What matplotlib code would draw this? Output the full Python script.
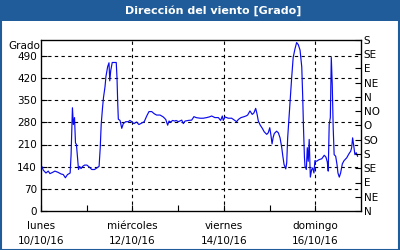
import matplotlib
matplotlib.use("Agg")
import matplotlib.pyplot as plt
from matplotlib.patches import Rectangle
import numpy as np

# hours since 10/10/16 00:00 and wind direction (degrees, unwrapped)
hours = [0.0, 0.4, 1.2, 2.6, 3.8, 4.7, 6.1, 7.3, 9.0, 10.5, 11.7, 12.8, 13.9, 15.3, 15.8, 16.3, 16.5, 17.0,
         17.6, 18.1, 18.6, 19.2, 19.7, 20.3, 21.0, 21.9, 22.9, 24.1, 25.3, 26.7, 28.1, 29.3, 30.5, 31.1,
         31.6, 32.3, 32.8, 33.6, 34.1, 35.0, 35.7, 36.1, 36.6, 37.4, 38.8, 39.5, 39.9, 40.3, 40.6, 41.5,
         42.4, 43.2, 44.5, 45.8, 46.7, 47.6, 48.8, 50.2, 51.4, 52.9, 54.2, 55.5, 56.7, 58.1, 59.5, 60.7,
         62.5, 64.2, 65.5, 66.5, 67.2, 68.1, 69.1, 70.3, 70.9, 72.1, 73.9, 74.7, 75.6, 77.3, 79.1, 80.3,
         81.4, 83.5, 85.2, 87.0, 88.3, 89.6, 91.3, 93.1, 94.3, 95.2, 95.7, 96.6, 98.3, 100.1, 101.8, 102.7,
         103.6, 105.0, 106.2, 107.6, 108.5, 109.7, 110.9, 111.8, 112.7, 113.4, 114.1, 115.1, 116.2, 117.2,
         118.5, 119.3, 120.1, 120.7, 121.3, 121.9, 122.5, 123.7, 124.6, 125.5, 126.4, 126.9, 127.6, 128.5,
         129.0, 129.5, 130.2, 130.7, 131.6, 132.4, 133.3, 134.2, 135.1, 136.0, 136.9, 137.4, 137.8, 138.3,
         138.6, 139.3, 139.8, 140.3, 140.8, 141.4, 142.1, 142.6, 143.3, 143.8, 144.7, 145.9, 147.4, 148.7,
         149.6, 150.3, 150.8, 151.3, 151.9, 152.4, 152.9, 153.4, 153.9, 154.7, 155.4, 155.9, 156.6, 157.3,
         158.2, 159.1, 160.5, 161.7, 162.6, 163.1, 163.6, 164.1, 164.8, 165.5, 166.2]
direction = [141, 141, 129, 120, 126, 118, 122, 126, 122, 117, 115, 105, 115, 120, 178, 279, 326, 273,
             295, 215, 210, 168, 131, 141, 134, 141, 145, 145, 139, 131, 131, 136, 141, 200,
             273, 326, 358, 392, 425, 456, 468, 411, 443, 469, 469, 469, 421, 337, 290, 286,
             261, 276, 282, 282, 286, 282, 276, 281, 273, 278, 282, 300, 314, 314, 307, 303,
             303, 297, 289, 271, 284, 281, 286, 284, 286, 282, 287, 276, 284, 286, 287, 298,
             295, 293, 293, 295, 297, 300, 295, 295, 286, 300, 286, 297, 293, 293, 286, 282,
             289, 295, 297, 300, 303, 316, 305, 310, 324, 307, 284, 271, 261, 250,
             242, 247, 263, 240, 212, 233, 245, 252, 247, 231, 200, 176, 147, 133,
             152, 231, 295, 337, 421, 485, 511, 532, 525, 508, 455, 360, 265, 170,
             141, 131, 200, 157, 226, 107, 131, 136, 120, 159, 157, 162, 165, 176,
             170, 155, 126, 273, 295, 485, 400, 263, 178, 173, 147, 120, 107, 120,
             149, 159, 168, 181, 189, 200, 231, 210, 178, 184, 173]

day_names = ["lunes", "miércoles", "viernes", "domingo"]
day_dates = ["10/10/16", "12/10/16", "14/10/16", "16/10/16"]
major_days = [0, 2, 4, 6]
minor_days = [1, 3, 5]
left_ticks = [0, 70, 140, 210, 280, 350, 420, 490]
compass = ["N", "NE", "E", "SE", "S", "SO", "O", "NO", "N", "NE", "E", "SE", "S"]

title = "Dirección del viento [Grado]"
blue = "#1f5c99"

fig = plt.figure(figsize=(4, 2.5), dpi=100)
fig.patch.set_facecolor("white")

# title bar and border
fig.patches.append(Rectangle((0, 1 - 21/250), 1, 21/250, transform=fig.transFigure,
                             facecolor=blue, edgecolor="none", zorder=0))
fig.patches.append(Rectangle((0.5/400, 0.5/250), 1 - 1.5/400, 1 - 1.5/250, transform=fig.transFigure,
                             facecolor="none", edgecolor=blue, linewidth=1.5, zorder=5))
fig.text(0.533, 1 - 10.5/250, title, color="white", fontweight="bold", fontsize=8,
         ha="center", va="center")

ax = fig.add_axes([41/400, 1 - 211/250, 320/400, 171/250])
ax.plot(hours, direction, color="#0a0aee", linewidth=0.85, zorder=3)
ax.set_xlim(0, 168)
ax.set_ylim(0, 540)

ax.set_yticks(left_ticks)
ax.set_yticklabels([str(v) for v in left_ticks], fontsize=7.5)
ax.set_xticks([d * 24 for d in major_days])
ax.set_xticklabels([f"{n}\n{d}" for n, d in zip(day_names, day_dates)], fontsize=7.5, linespacing=1.7)
ax.set_xticks([d * 24 for d in minor_days], minor=True)
ax.tick_params(axis="both", which="both", direction="in", length=4, width=0.8, pad=3)
ax.tick_params(axis="x", which="major", pad=7)
for s in ax.spines.values():
    s.set_linewidth(0.9)

for v in left_ticks[1:]:
    ax.axhline(v, color="black", linestyle=(0, (3, 3)), linewidth=0.8, zorder=1)
for d in major_days[1:]:
    ax.axvline(d * 24, color="black", linestyle=(0, (3, 3)), linewidth=0.8, zorder=1)

ax2 = ax.twinx()
ax2.set_ylim(0, 540)
ax2.set_yticks(np.arange(0, 541, 45))
ax2.set_yticklabels(compass, fontsize=7.5)
ax2.tick_params(axis="y", direction="in", length=4, width=0.8, pad=2)

fig.text(8/400, 1 - 46/250, "Grado", fontsize=7.5, ha="left", va="center")

fig.savefig("out.png", dpi=100)
